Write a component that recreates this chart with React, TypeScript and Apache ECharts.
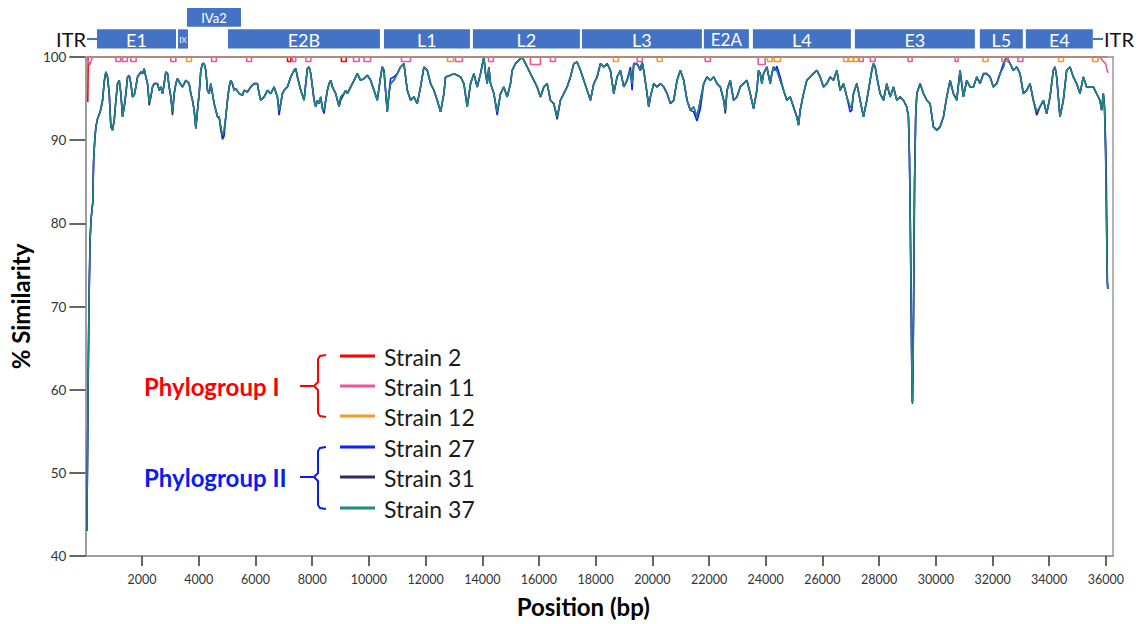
import React, { useEffect, useRef } from "react";
import * as echarts from "echarts";

const X_MAX = 36250;
const xTickValues = [2000, 4000, 6000, 8000, 10000, 12000, 14000, 16000, 18000, 20000, 22000, 24000, 26000, 28000, 30000, 32000, 34000, 36000];
const Y_MIN = 40;
const Y_MAX = 100;
const Y_STEP = 10;

const strainNames = ["Strain 2", "Strain 11", "Strain 12", "Strain 27", "Strain 31", "Strain 37"];
const strainColors = ["#ff0000", "#f0559c", "#f59a28", "#1020ff", "#2b2a6b", "#1f8a80"];
const groupNames = ["Phylogroup I", "Phylogroup II"];
const groupColors = ["#ff0000", "#0a1cf0"];

// genome map: [start bp, end bp, row]
const geneNames = ["E1", "IX", "IVa2", "E2B", "L1", "L2", "L3", "E2A", "L4", "E3", "L5", "E4"];
const geneSpans = [
  [440, 3224, 0], [3295, 3647, 0], [3612, 5515, 1], [5057, 10413, 0], [10554, 13585, 0],
  [13690, 17461, 0], [17532, 21761, 0], [21831, 23417, 0], [23558, 27011, 0],
  [27152, 31381, 0], [31557, 33072, 0], [33178, 35539, 0],
];
const geneFontSizes = [18, 8, 13, 18, 18, 18, 18, 17, 18, 18, 18, 18];

// Strain 37 (reference line)
const strain37 = [
  [50, 43], [70, 50], [95, 60], [125, 70], [165, 78], [200, 80.5], [260, 82.5], [290, 87.5], [330, 90], [371, 91.6],
  [429, 92.6], [523, 93.4], [606, 94.8], [664, 97.0], [723, 98.2], [782, 97.6], [841, 95.6], [899, 91.6], [958, 91.2],
  [1017, 92.4], [1076, 94.8], [1134, 96.8], [1193, 97.2], [1252, 95.6], [1311, 92.8], [1370, 94.0], [1428, 95.6],
  [1487, 97.6], [1546, 97.8], [1605, 96.8], [1663, 95.2], [1722, 95.4], [1781, 96.4], [1840, 97.6], [1957, 98.2],
  [2015, 98.0], [2074, 98.6], [2133, 97.6], [2192, 96.8], [2250, 94.6], [2309, 95.2], [2368, 96.4], [2427, 96.8],
  [2544, 96.8], [2603, 96.0], [2662, 96.4], [2720, 95.6], [2779, 96.8], [2838, 98.2], [2897, 98.0], [2955, 96.4],
  [3014, 95.2], [3073, 93.4], [3132, 95.6], [3191, 96.8], [3249, 97.4], [3308, 97.0], [3426, 96.4], [3543, 97.2],
  [3660, 96.8], [3719, 95.6], [3778, 94.8], [3837, 93.6], [3896, 91.4], [3954, 93.6], [4013, 95.6], [4072, 98.4],
  [4131, 99.2], [4189, 99.2], [4248, 98.4], [4307, 96.0], [4366, 95.6], [4424, 96.8], [4483, 95.6], [4542, 94.4],
  [4601, 93.6], [4659, 92.8], [4718, 92.8], [4777, 91.6], [4836, 90.6], [4894, 91.2], [4953, 92.8], [5012, 94.8],
  [5071, 96.4], [5129, 97.2], [5188, 96.8], [5247, 96.0], [5306, 96.2], [5423, 95.6], [5540, 95.4], [5599, 96.0],
  [5717, 95.8], [5834, 96.4], [5952, 96.8], [6069, 96.8], [6128, 95.6], [6187, 94.8], [6304, 95.2], [6422, 96.0],
  [6539, 95.6], [6657, 96.4], [6774, 95.2], [6833, 93.6], [6892, 94.4], [6950, 95.6], [7009, 96.0], [7127, 96.4],
  [7244, 97.6], [7362, 98.4], [7421, 98.6], [7480, 97.6], [7597, 96.0], [7715, 94.8], [7773, 96.8], [7832, 98.6],
  [7891, 98.8], [7950, 98.0], [8009, 96.4], [8067, 94.8], [8126, 94.0], [8185, 94.8], [8244, 94.4], [8302, 95.2],
  [8361, 93.8], [8420, 93.6], [8479, 94.8], [8537, 96.0], [8596, 96.8], [8655, 97.2], [8714, 96.4], [8772, 96.0],
  [8831, 95.6], [8890, 94.8], [8949, 94.0], [9007, 95.2], [9125, 95.6], [9183, 96.0], [9242, 95.6], [9359, 96.4],
  [9477, 97.2], [9594, 98.0], [9709, 97.2], [9827, 97.4], [9944, 97.8], [10062, 97.2], [10179, 96.0], [10297, 94.8],
  [10414, 97.6], [10473, 98.8], [10532, 98.4], [10649, 93.4], [10708, 95.6], [10767, 96.8], [10884, 97.2], [11002, 98.0],
  [11119, 98.8], [11237, 99.2], [11295, 97.6], [11354, 96.0], [11472, 94.8], [11589, 95.2], [11707, 94.4], [11824, 96.4],
  [11942, 98.8], [12059, 98.4], [12177, 96.8], [12294, 96.0], [12412, 94.8], [12529, 93.4], [12647, 95.6], [12705, 97.6],
  [12882, 97.8], [12999, 98.0], [13117, 97.8], [13234, 97.6], [13352, 96.8], [13469, 94.0], [13587, 96.8], [13704, 98.0],
  [13822, 96.4], [13939, 98.0], [14057, 100.0], [14115, 98.0], [14174, 96.8], [14233, 98.8], [14292, 96.8], [14409, 95.6],
  [14527, 93.4], [14644, 95.6], [14762, 96.4], [14879, 95.2], [14997, 96.8], [15055, 98.4], [15173, 99.2], [15290, 99.6],
  [15408, 100.0], [15525, 99.2], [15701, 98.0], [15819, 97.2], [15936, 96.4], [16054, 95.2], [16171, 96.4], [16289, 96.8],
  [16406, 94.8], [16524, 94.4], [16641, 92.8], [16759, 94.8], [16876, 95.6], [16994, 96.4], [17111, 97.6], [17229, 99.2],
  [17346, 99.4], [17464, 98.4], [17581, 97.2], [17699, 96.0], [17816, 94.8], [17934, 96.8], [18051, 97.6], [18169, 99.2],
  [18286, 98.8], [18404, 99.2], [18521, 98.4], [18639, 95.6], [18756, 97.6], [18874, 98.4], [18991, 96.4], [19109, 97.2],
  [19226, 98.4], [19285, 96.8], [19344, 99.2], [19461, 99.2], [19579, 98.4], [19638, 99.4], [19696, 98.4], [19814, 95.6],
  [19873, 94.0], [19931, 95.2], [20049, 96.8], [20166, 96.4], [20284, 96.8], [20401, 96.4], [20519, 95.6], [20636, 94.4],
  [20754, 94.8], [20871, 97.2], [20989, 98.4], [21106, 97.2], [21224, 94.8], [21341, 93.6], [21459, 94.0], [21576, 92.8],
  [21694, 94.8], [21811, 96.8], [21929, 97.6], [22046, 97.2], [22164, 97.6], [22281, 96.8], [22399, 96.4], [22516, 94.8],
  [22575, 93.6], [22634, 96.0], [22748, 97.2], [22865, 94.8], [22983, 95.2], [23100, 96.4], [23218, 96.8], [23335, 97.2],
  [23453, 95.6], [23570, 93.8], [23688, 96.0], [23746, 98.4], [23805, 98.0], [23864, 96.8], [23923, 98.0], [24040, 98.8],
  [24158, 96.8], [24216, 98.0], [24275, 98.8], [24334, 98.4], [24393, 98.4], [24510, 97.2], [24628, 96.0], [24745, 94.8],
  [24863, 95.2], [24980, 94.0], [25098, 92.8], [25156, 91.8], [25215, 93.6], [25333, 95.6], [25450, 97.2], [25568, 97.6],
  [25685, 98.0], [25803, 98.4], [25920, 97.6], [26038, 96.4], [26155, 96.8], [26273, 97.6], [26390, 97.2], [26508, 98.4],
  [26625, 96.0], [26743, 96.8], [26860, 95.2], [26978, 94.0], [27036, 94.0], [27095, 95.6], [27213, 96.8], [27330, 94.8],
  [27448, 92.8], [27565, 94.8], [27683, 97.2], [27741, 98.4], [27800, 99.2], [27859, 98.8], [27918, 97.6], [28035, 95.6],
  [28153, 94.8], [28270, 96.8], [28388, 95.2], [28505, 96.4], [28623, 94.8], [28740, 95.2], [28858, 94.8], [28975, 94.0],
  [29034, 92.8], [29070, 88], [29100, 80], [29130, 70], [29160, 60], [29175, 58.5], [29195, 62], [29220, 72], [29250, 85],
  [29290, 93], [29330, 95.6], [29445, 96.8], [29563, 95.6], [29680, 94.8], [29798, 94.4], [29915, 91.6], [30033, 91.2],
  [30150, 91.6], [30268, 92.8], [30385, 95.2], [30503, 97.2], [30620, 95.6], [30738, 94.8], [30855, 98.4], [30973, 95.2],
  [31090, 97.2], [31208, 96.4], [31325, 96.4], [31443, 97.6], [31560, 96.8], [31678, 98.0], [31795, 98.0], [31913, 97.6],
  [32030, 96.4], [32148, 96.8], [32265, 98.0], [32383, 98.8], [32441, 99.6], [32500, 100.0], [32559, 99.6], [32618, 99.2],
  [32735, 98.4], [32853, 98.8], [32970, 98.0], [33088, 95.6], [33205, 96.0], [33323, 96.8], [33440, 94.8], [33558, 93.4],
  [33675, 94.0], [33793, 94.8], [33910, 93.2], [34028, 95.2], [34145, 98.4], [34204, 98.8], [34263, 97.6], [34380, 92.8],
  [34498, 94.8], [34615, 98.4], [34733, 98.8], [34850, 97.6], [34968, 96.8], [35085, 95.6], [35203, 97.6], [35320, 96.4],
  [35438, 96.4], [35555, 96.4], [35673, 95.6], [35790, 94.8], [35849, 93.6], [35908, 95.6], [35950, 94], [35990, 88],
  [36020, 80], [36050, 73], [36065, 72.2], [36110, 72.2],
];

// Where Strain 27 / Strain 31 differ from Strain 37
const strain27Changes = [
  [4836, 90.1], [4894, 90.5], [6833, 93.0], [8420, 93.2], [10767, 97.4], [10884, 97.6], [14527, 93.0],
  [19226, 98.8], [19285, 96.0], [21459, 93.4], [21576, 92.3], [21694, 93.8], [24393, 98.9], [24510, 97.6],
  [26978, 93.4], [27036, 93.6], [32383, 99.2], [35990, 90], [36020, 84],
];
const strain31Changes = [
  [2250, 94.2], [3073, 93.0], [4777, 91.2], [4836, 90.4], [9007, 94.8], [16641, 92.5], [22575, 93.2],
  [29175, 58.3], [33558, 93.0],
];

// Phylogroup I: mostly 100 %, with short dips [start, end, lowest value]
const strain2Start = [[85, 94.6], [100, 100]];
const strain2Dips = [[7130, 7250, 99.45], [9030, 9200, 99.45]];
const strain2End = [[36050, 100]];

const strain11Start = [[0, 100], [60, 100], [150, 99.0], [250, 100]];
const strain11Dips = [
  [1075, 1240, 99.45], [1310, 1480, 99.45], [1600, 1790, 99.45], [3013, 3190, 99.45], [4450, 4620, 99.45],
  [5690, 5860, 99.45], [7300, 7420, 99.45], [7780, 7950, 99.45], [9460, 9660, 99.45], [9830, 10060, 99.45],
  [11150, 11470, 99.45], [13056, 13300, 99.45], [14220, 14395, 99.45], [15700, 16050, 99.1], [16404, 16580, 99.45],
  [19470, 19646, 99.45], [21866, 22043, 99.45], [23734, 23980, 99.1], [27300, 27440, 99.45], [27690, 27860, 99.45],
  [29022, 29163, 99.45], [30678, 30784, 99.45], [32333, 32545, 99.45], [32897, 33072, 99.45],
];
const strain11End = [[35790, 100], [35900, 99.5], [35990, 99.2], [36050, 98.3], [36090, 98.1]];

const strain12Start = [[0, 100]];
const strain12Dips = [
  [3570, 3740, 99.45], [12774, 12985, 99.45], [18624, 18800, 99.45], [20174, 20350, 99.45], [24060, 24230, 99.45],
  [24300, 24520, 99.45], [26750, 26900, 99.45], [26930, 27080, 99.45], [27110, 27260, 99.45], [31664, 31840, 99.45],
  [34330, 34500, 99.45], [35530, 35720, 99.45],
];
const strain12End = [[36050, 100]];

function withChanges(base: number[][], changes: number[][]) {
  const m = new Map<number, number>();
  base.forEach(([x, y]) => m.set(x, y));
  changes.forEach(([x, y]) => m.set(x, y));
  return [...m.entries()].sort((a, b) => a[0] - b[0]);
}

function buildFlat(start: number[][], dips: number[][], end: number[][]) {
  const pts: number[][] = [...start];
  dips.forEach(([s, e, v]) => {
    pts.push([s, 100], [s, v], [e, v], [e, 100]);
  });
  end.forEach((p) => pts.push(p));
  return pts;
}

const FONT = "Lato, 'Noto Sans', sans-serif";
const MAP_BLUE = "#4472c4";

function makeOption() {
  const lineData = [
    buildFlat(strain2Start, strain2Dips, strain2End),
    buildFlat(strain11Start, strain11Dips, strain11End),
    buildFlat(strain12Start, strain12Dips, strain12End),
    withChanges(strain37, strain27Changes),
    withChanges(strain37, strain31Changes),
    strain37,
  ];
  const drawOrder = [3, 4, 5, 0, 1, 2];
  const lineSeries = drawOrder.map((i) => ({
    type: "line",
    name: strainNames[i],
    xAxisIndex: 0,
    yAxisIndex: 0,
    data: lineData[i],
    showSymbol: false,
    symbol: "none",
    silent: true,
    lineStyle: { color: strainColors[i], width: i === 5 ? 1.4 : 1.6 },
    itemStyle: { color: strainColors[i] },
    z: 2,
  }));

  const legendY = [356, 386, 416, 447, 477, 508];
  const graphics: any[] = [];
  strainNames.forEach((n, i) => {
    graphics.push({
      type: "line",
      shape: { x1: 340, y1: legendY[i], x2: 375, y2: legendY[i] },
      style: { stroke: strainColors[i], lineWidth: 3 },
    });
    graphics.push({
      type: "text",
      x: 384,
      y: legendY[i] + 1,
      style: { text: n, fill: "#1a1a1a", font: `23px ${FONT}`, verticalAlign: "middle", align: "left" },
    });
  });
  const groupY = [386, 477];
  const groupTop = [355, 447];
  const groupBot = [417, 509];
  groupNames.forEach((g, i) => {
    graphics.push({
      type: "text",
      x: 144,
      y: groupY[i],
      style: { text: g, fill: groupColors[i], font: `bold 24px ${FONT}`, verticalAlign: "middle", align: "left" },
    });
    graphics.push({
      type: "polyline",
      shape: {
        points: [
          [326, groupTop[i]], [320, groupTop[i] + 1], [318, groupTop[i] + 4], [318, groupY[i] - 4], [314, groupY[i]],
          [318, groupY[i] + 4], [318, groupBot[i] - 4], [320, groupBot[i] - 1], [326, groupBot[i]],
        ],
      },
      style: { stroke: groupColors[i], lineWidth: 2, fill: null },
    });
    graphics.push({
      type: "line",
      shape: { x1: 300, y1: groupY[i], x2: 314, y2: groupY[i] },
      style: { stroke: groupColors[i], lineWidth: 2 },
    });
  });
  // ITR ends of the genome map
  graphics.push({ type: "text", x: 86, y: 39, style: { text: "ITR", fill: "#111", font: `20px ${FONT}`, align: "right", verticalAlign: "middle" } });
  graphics.push({ type: "line", shape: { x1: 87, y1: 39, x2: 97, y2: 39 }, style: { stroke: MAP_BLUE, lineWidth: 2 } });
  graphics.push({ type: "line", shape: { x1: 1093, y1: 39, x2: 1103, y2: 39 }, style: { stroke: MAP_BLUE, lineWidth: 2 } });
  graphics.push({ type: "text", x: 1104, y: 39, style: { text: "ITR", fill: "#111", font: `20px ${FONT}`, align: "left", verticalAlign: "middle" } });

  const mapSeries = {
    type: "custom",
    xAxisIndex: 2,
    yAxisIndex: 2,
    silent: true,
    data: geneSpans,
    renderItem: (params: any, api: any) => {
      const s = api.value(0);
      const e = api.value(1);
      const row = api.value(2);
      const lo = row === 0 ? 0.02 : 1.08;
      const hi = row === 0 ? 0.96 : 2.0;
      const p0 = api.coord([s, hi]);
      const p1 = api.coord([e, lo]);
      const idx = params.dataIndex;
      return {
        type: "group",
        children: [
          { type: "rect", shape: { x: p0[0], y: p0[1], width: p1[0] - p0[0], height: p1[1] - p0[1] }, style: { fill: MAP_BLUE } },
          {
            type: "text",
            style: {
              text: geneNames[idx],
              x: (p0[0] + p1[0]) / 2,
              y: (p0[1] + p1[1]) / 2 + 1,
              fill: "#ffffff",
              align: "center",
              verticalAlign: "middle",
              font: `${geneFontSizes[idx]}px ${FONT}`,
            },
          },
        ],
      };
    },
  };

  return {
    animation: false,
    backgroundColor: "#ffffff",
    grid: [
      { left: 84.5, right: 27, top: 57, bottom: 68 },
      { left: 84.5, right: 27, top: 8, height: 41 },
    ],
    xAxis: [
      {
        type: "value",
        gridIndex: 0,
        min: 0,
        max: X_MAX,
        interval: 2000,
        name: "Position (bp)",
        nameLocation: "middle",
        nameGap: 38,
        nameTextStyle: { fontFamily: FONT, fontWeight: "bold", fontSize: 24, color: "#000", padding: [0, 32, 0, 0] },
        axisLine: { show: true, onZero: false, lineStyle: { color: "#7f7f7f", width: 1.5 } },
        axisTick: { show: true, length: 10, customValues: xTickValues, lineStyle: { color: "#333", width: 1.5 } },
        axisLabel: {
          customValues: xTickValues,
          margin: 17,
          fontFamily: FONT,
          fontSize: 12.5,
          color: "#333",
          formatter: (v: number) => String(v),
        },
        splitLine: { show: false },
      },
      {
        type: "value",
        gridIndex: 0,
        position: "top",
        min: 0,
        max: X_MAX,
        z: 10,
        axisLine: { show: true, onZero: false, lineStyle: { color: "#9a8c8c", width: 1.5 } },
        axisTick: { show: false },
        axisLabel: { show: false },
        splitLine: { show: false },
      },
      { type: "value", gridIndex: 1, min: 0, max: X_MAX, show: false },
    ],
    yAxis: [
      {
        type: "value",
        gridIndex: 0,
        min: Y_MIN,
        max: Y_MAX,
        interval: Y_STEP,
        name: "% Similarity",
        nameLocation: "middle",
        nameGap: 48,
        nameTextStyle: { fontFamily: FONT, fontWeight: "bold", fontSize: 24, color: "#000" },
        axisLine: { show: true, onZero: false, lineStyle: { color: "#7f7f7f", width: 1.5 } },
        axisTick: { show: true, length: 16, lineStyle: { color: "#333", width: 1.5 } },
        axisLabel: { margin: 19, fontFamily: FONT, fontSize: 13.5, color: "#333" },
        splitLine: { show: false },
      },
      {
        type: "value",
        gridIndex: 0,
        position: "right",
        min: Y_MIN,
        max: Y_MAX,
        z: 10,
        axisLine: { show: true, onZero: false, lineStyle: { color: "#9a9a9a", width: 1.5 } },
        axisTick: { show: false },
        axisLabel: { show: false },
        splitLine: { show: false },
      },
      { type: "value", gridIndex: 1, min: 0, max: 2, show: false },
    ],
    series: [...lineSeries, mapSeries],
    graphic: graphics,
  };
}

export default function App() {
  const ref = useRef<HTMLDivElement>(null);
  useEffect(() => {
    if (!ref.current) return;
    const chart = echarts.init(ref.current, null, { renderer: "svg" });
    chart.setOption(makeOption() as any);
    return () => chart.dispose();
  }, []);
  return (
    <div
      ref={ref}
      style={{ position: "absolute", left: 0, top: 0, width: 1140, height: 624, background: "#fff" }}
    />
  );
}
